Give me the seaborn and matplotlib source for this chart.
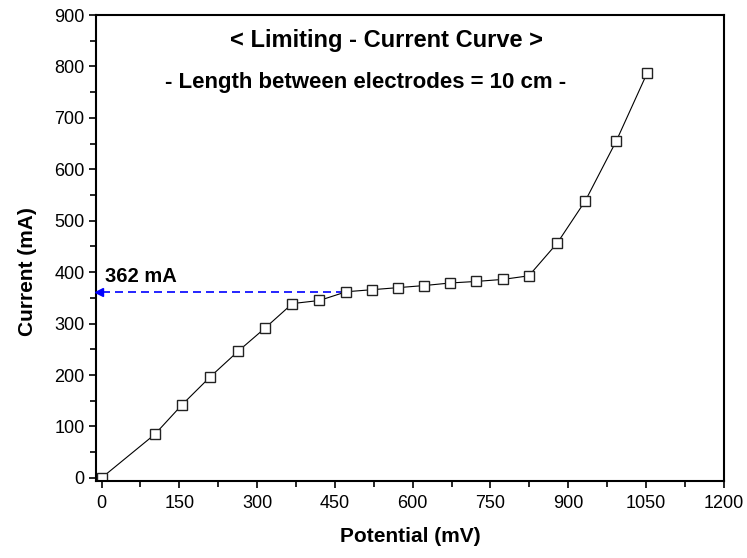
import numpy as np
import pandas as pd
import seaborn as sns
import matplotlib.pyplot as plt
from matplotlib.ticker import MultipleLocator

# data
potential_mv = [0, 103, 155, 209, 263, 316, 368, 420, 472, 522,
                572, 622, 672, 722, 774, 824, 879, 933, 993, 1052]
current_ma = [0, 85, 142, 196, 246, 292, 339, 345, 362, 366,
              370, 374, 379, 382, 386, 393, 457, 539, 656, 787]
limit_current = 362
limit_potential = 472

title = "< Limiting - Current Curve >"
subtitle = "- Length between electrodes = 10 cm -"

df = pd.DataFrame({"Potential (mV)": potential_mv, "Current (mA)": current_ma})

sns.set_style("ticks")
plt.rcParams['font.family'] = ['Liberation Sans', 'DejaVu Sans']
plt.rcParams['text.color'] = 'black'
plt.rcParams['axes.labelcolor'] = 'black'
plt.rcParams['xtick.color'] = 'black'
plt.rcParams['ytick.color'] = 'black'

fig = plt.figure(figsize=(7.47, 5.58), dpi=100)
ax = fig.add_axes([0.129, 0.138, 0.84, 0.835])

sns.lineplot(data=df, x="Potential (mV)", y="Current (mA)", ax=ax,
             color="black", linewidth=0.8, marker="s", markersize=7,
             markerfacecolor="white", markeredgecolor="#222222",
             markeredgewidth=1.0)

# dashed arrow back to the y axis
ax.plot([0, limit_potential], [limit_current, limit_current],
        linestyle=(0, (4.8, 3)), color="blue", linewidth=1.2, zorder=1)
ax.plot([-4], [limit_current], marker="<", markersize=6, color="blue",
        clip_on=False, zorder=3)
ax.text(6, 381, f"{limit_current} mA", fontsize=14.5, fontweight="bold",
        ha="left", va="baseline")

ax.text(550, 850, title, fontsize=17, fontweight="bold", ha="center", va="center")
ax.text(510, 768, subtitle, fontsize=16, fontweight="bold", ha="center", va="center")

ax.set_xlim(-10, 1200)
ax.set_ylim(-6, 900)
ax.xaxis.set_major_locator(MultipleLocator(150))
ax.xaxis.set_minor_locator(MultipleLocator(75))
ax.yaxis.set_major_locator(MultipleLocator(100))
ax.yaxis.set_minor_locator(MultipleLocator(50))
ax.tick_params(which="both", direction="out", labelsize=13, width=1.2)
ax.tick_params(which="major", length=5)
ax.tick_params(which="minor", length=4)
ax.tick_params(axis="x", pad=5)

ax.set_xlabel("Potential (mV)", fontsize=15, fontweight="bold", labelpad=11)
ax.set_ylabel("Current (mA)", fontsize=15, fontweight="bold")
ax.yaxis.set_label_coords(-0.095, 0.45)

for side in ["left", "bottom", "top", "right"]:
    ax.spines[side].set_visible(True)
    ax.spines[side].set_linewidth(1.5)
    ax.spines[side].set_color("black")

fig.savefig("out.png", dpi=100)
